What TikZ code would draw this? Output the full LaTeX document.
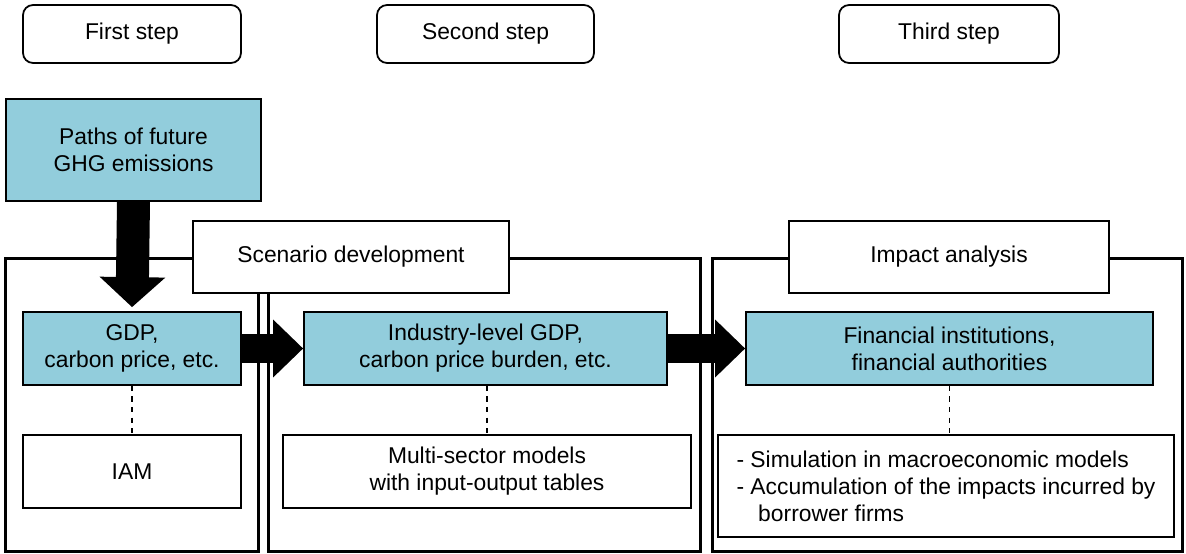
\documentclass[tikz,border=0pt]{standalone}
\usepackage{fontspec}
\setmainfont{Liberation Sans}
\usepackage{tikz}
\usetikzlibrary{arrows.meta, positioning, calc}
\definecolor{stepblue}{HTML}{92CDDC}

\begin{document}
\begin{tikzpicture}[x=0.02cm, y=-0.02cm,
    font=\fontsize{13}{15.4}\selectfont,
    stepbox/.style={draw, line width=1pt, rounded corners=0.2cm, fill=white,
                    minimum width=#1, minimum height=1.16cm, inner sep=0pt},
    frame/.style={draw, line width=1.7pt, minimum height=5.88cm, inner sep=0pt, minimum width=#1},
    result/.style={draw, line width=1pt, fill=stepblue, inner sep=0pt,
                   minimum width=#1, minimum height=1.46cm, align=center},
    model/.style={draw, line width=1pt, fill=white, inner sep=0pt,
                  minimum width=#1, minimum height=1.46cm, align=center},
    title/.style={draw, line width=1pt, fill=white, inner sep=0pt,
                  minimum width=#1, minimum height=1.45cm},
    bigarrow/.style={-{Triangle[width=#1, length=0.6cm]}, line width=0.6cm},
    link/.style={dashed, line width=1pt},
]
    \useasboundingbox (0,0) rectangle (1186,554);

    % Steps
    \node[stepbox=4.36cm] (first)  at (132,34)   {First step};
    \node[stepbox=4.34cm] (second) at (485.5,34) {Second step};
    \node[stepbox=4.40cm] (third)  at (949,34)   {Third step};

    \node[result=5.10cm, minimum height=2.04cm] (paths) at (133.5,150) {Paths of future\\GHG emissions};

    % Frames
    \node[frame=5.08cm] (leftframe)  at (132,405)   {};
    \node[frame=8.66cm] (midframe)   at (484.5,405) {};
    \node[frame=9.42cm] (rightframe) at (947.5,405) {};

    \node[title=6.32cm] (scenario) at (351,257) {Scenario development};
    \node[title=6.40cm] (impact)   at (949,257) {Impact analysis};

    % Outputs
    \node[result=4.36cm] (gdp)       at (132,348.5)   {GDP,\\carbon price, etc.};
    \node[result=7.26cm] (industry)  at (485.5,348.5) {Industry-level GDP,\\carbon price burden, etc.};
    \node[result=8.14cm] (financial) at (949.5,348.5) {Financial institutions,\\financial authorities};

    % Models
    \node[model=4.36cm] (iam)   at (132,471.5) {IAM};
    \node[model=8.16cm] (multi) at (487,471.5) {Multi-sector models\\with input-output tables};
    \node[model=9.12cm, minimum height=2.04cm, align=left] (bullets) at (946,486)
        {- Simulation in macroeconomic models\\- Accumulation of the impacts incurred by\\\hspace*{0.95em}borrower firms};

    \draw[link] (gdp.south) -- (iam.north);
    \draw[link] (multi.north |- industry.south) -- (multi.north);
    \draw[link] (financial.south) -- (financial.south |- bullets.north);

    % Flow
    \draw[bigarrow=1.28cm, line width=0.66cm, shorten >=0.08cm] (paths.south) -- (gdp.north);
    \draw[bigarrow=1.12cm, line width=0.58cm] (gdp.east) -- (industry.west);
    \draw[bigarrow=1.12cm, line width=0.58cm] (industry.east) -- (financial.west);
\end{tikzpicture}
\end{document}
